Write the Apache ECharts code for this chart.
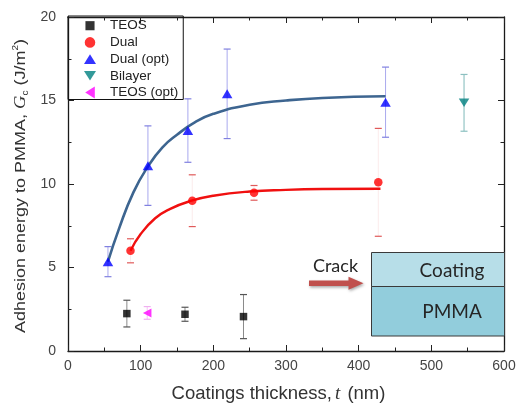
<!DOCTYPE html>
<html>
<head>
<meta charset="utf-8">
<script src="https://cdn.jsdelivr.net/npm/echarts@6/dist/echarts.min.js"></script>
<style>
  html, body { margin: 0; padding: 0; background: #fff; }
  #chart { width: 519px; height: 408px; }
</style>
</head>
<body>
<div id="chart"></div>
<script>
// Measured adhesion energy (J/m^2) versus coating thickness (nm)
var teosX = [81, 161, 241.5];
var teosY = [2.24, 2.2, 2.06];
var teosErr = [0.8, 0.42, 1.32];

var dualX = [86, 171, 256, 427];
var dualY = [6.0, 9.0, 9.47, 10.1];
var dualErr = [0.72, 1.55, 0.44, 3.23];

var dualOptX = [55, 110, 165, 219, 437];
var dualOptY = [5.35, 11.1, 13.2, 15.4, 14.9];
var dualOptErr = [0.9, 2.38, 1.9, 2.68, 2.1];

var bilayerX = [545];
var bilayerY = [14.86];
var bilayerErr = [1.7];

var teosOptX = [109];
var teosOptY = [2.28];
var teosOptErr = [0.38];

// Fitted trend curves
var dualOptFitX = [55, 70, 90, 110, 130, 150, 175, 200, 250, 300, 350, 437];
var dualOptFitY = [5.35, 7.3, 9.5, 11.05, 12.2, 12.95, 13.7, 14.2, 14.75, 15.0, 15.15, 15.25];
var dualFitX = [86, 100, 120, 140, 170, 200, 250, 300, 350, 430];
var dualFitY = [6.0, 7.0, 7.95, 8.5, 9.0, 9.3, 9.55, 9.65, 9.7, 9.72];

var seriesNames = ['TEOS', 'Dual', 'Dual (opt)', 'Bilayer', 'TEOS (opt)'];
var xTicks = [0, 100, 200, 300, 400, 500, 600];
var yTicks = [0, 5, 10, 15, 20];

function pairs(xs, ys) { return xs.map(function (x, i) { return [x, ys[i]]; }); }
function triples(xs, ys, es) { return xs.map(function (x, i) { return [x, ys[i], es[i]]; }); }

function errorBars(name, xs, ys, es, stemColor, capColor) {
  return {
    type: 'custom',
    name: name + ' err',
    z: 2,
    silent: true,
    data: triples(xs, ys, es),
    renderItem: function (params, api) {
      var x = api.value(0), y = api.value(1), e = api.value(2);
      var top = api.coord([x, y + e]);
      var bot = api.coord([x, y - e]);
      var hw = 3.5;
      return {
        type: 'group',
        children: [
          { type: 'line', shape: { x1: top[0], y1: top[1], x2: bot[0], y2: bot[1] },
            style: { stroke: stemColor, lineWidth: 1 } },
          { type: 'line', shape: { x1: top[0] - hw, y1: top[1], x2: top[0] + hw, y2: top[1] },
            style: { stroke: capColor, lineWidth: 1.2 } },
          { type: 'line', shape: { x1: bot[0] - hw, y1: bot[1], x2: bot[0] + hw, y2: bot[1] },
            style: { stroke: capColor, lineWidth: 1.2 } }
        ]
      };
    }
  };
}

var chart = echarts.init(document.getElementById('chart'), null, { renderer: 'canvas' });

var axisLineStyle = { color: '#1a1a1a', width: 1.3 };
var tickStyle = { color: '#222' };
var labelFont = { color: '#444', fontSize: 14, fontFamily: 'Liberation Sans, Arial, sans-serif' };

function frameAxis(extra) {
  return Object.assign({
    type: 'value',
    axisLine: { show: true, onZero: false, lineStyle: axisLineStyle },
    axisTick: { inside: true, length: 6, lineStyle: tickStyle },
    minorTick: { show: true, splitNumber: 2, length: 3.5, lineStyle: tickStyle },
    splitLine: { show: false },
    axisLabel: { show: false }
  }, extra);
}

// legend glyphs: marks inside a 10x10 box
var legendIcons = {
  'TEOS': 'path://M0,0M10,10M1.2,1.2h7.6v7.6h-7.6z',
  'Dual': 'path://M0,0M10,10M0.6,5a4.4,4.4 0 1,0 8.8,0a4.4,4.4 0 1,0 -8.8,0z',
  'Dual (opt)': 'path://M0,0M10,10M0,9L5,1L10,9z',
  'Bilayer': 'path://M0,0M10,10M0,1L10,1L5,9z',
  'TEOS (opt)': 'path://M0,0M10,10M1,5L9,0L9,10z'
};

var option = {
  backgroundColor: '#fff',
  animation: false,
  grid: { left: 68, right: 15, top: 17, bottom: 57 },
  legend: {
    orient: 'vertical',
    left: 68,
    top: 16,
    padding: [2.7, 5, 0, 16],
    itemWidth: 12,
    itemHeight: 12,
    itemGap: 2.7,
    borderColor: '#111',
    borderWidth: 1,
    textStyle: { color: '#222', fontSize: 13.5, lineHeight: 14, padding: [0, 0, 0, 9],
                 fontFamily: 'Liberation Sans, Arial, sans-serif' },
    data: seriesNames.map(function (n) { return { name: n, icon: legendIcons[n] }; })
  },
  xAxis: [
    frameAxis({ min: 0, max: 600, interval: 100,
      axisLabel: Object.assign({ margin: 8, formatter: function (v) { return xTicks.indexOf(v) >= 0 ? v : ''; } }, labelFont) }),
    frameAxis({ position: 'top', min: 0, max: 600, interval: 100 })
  ],
  yAxis: [
    frameAxis({ min: 0, max: 20, interval: 5,
      axisLabel: Object.assign({ margin: 12, formatter: function (v) { return yTicks.indexOf(v) >= 0 ? v : ''; } }, labelFont) }),
    frameAxis({ position: 'right', min: 0, max: 20, interval: 5 })
  ],
  series: [
    errorBars('TEOS', teosX, teosY, teosErr, '#8a8a8a', '#555'),
    errorBars('Dual', dualX, dualY, dualErr, 'rgba(220,90,90,0.12)', '#e05a5a'),
    errorBars('Dual (opt)', dualOptX, dualOptY, dualOptErr, '#a9a9ee', '#8080e0'),
    errorBars('Bilayer', bilayerX, bilayerY, bilayerErr, '#7fb9b9', '#8cc0c0'),
    errorBars('TEOS (opt)', teosOptX, teosOptY, teosOptErr, '#f6c2f6', '#f0b0f0'),
    {
      type: 'line', name: 'Dual (opt) fit', smooth: true, symbol: 'none', z: 3,
      data: pairs(dualOptFitX, dualOptFitY),
      lineStyle: { color: '#3d6590', width: 2.6 }
    },
    {
      type: 'line', name: 'Dual fit', smooth: true, symbol: 'none', z: 3,
      data: pairs(dualFitX, dualFitY),
      lineStyle: { color: '#f01010', width: 2.4 }
    },
    {
      type: 'scatter', name: 'TEOS', symbol: 'rect', symbolSize: 7.5, z: 5,
      itemStyle: { color: '#000' }, data: pairs(teosX, teosY)
    },
    {
      type: 'scatter', name: 'Dual', symbol: 'circle', symbolSize: 8.5, z: 5,
      itemStyle: { color: '#ff0000' }, data: pairs(dualX, dualY)
    },
    {
      type: 'scatter', name: 'Dual (opt)', symbol: 'triangle', symbolSize: [10.5, 9], z: 5,
      itemStyle: { color: '#0000ff' }, data: pairs(dualOptX, dualOptY)
    },
    {
      type: 'scatter', name: 'Bilayer', symbol: 'triangle', symbolRotate: 180, symbolSize: [10.5, 8.5], z: 5,
      itemStyle: { color: '#008080' }, data: pairs(bilayerX, bilayerY)
    },
    {
      type: 'scatter', name: 'TEOS (opt)', symbol: 'triangle', symbolRotate: 90, symbolSize: [9, 8.5], z: 5,
      itemStyle: { color: '#ff00ff' }, data: pairs(teosOptX, teosOptY)
    }
  ],
  graphic: [
    // axis titles
    {
      type: 'text', x: 20.5, y: 333, rotation: Math.PI / 2, scaleY: 0.86, z: 10,
      style: {
        text: 'Adhesion energy to PMMA, {it|G}{sub|c} (J/m{sup|2})',
        fill: '#333', fontSize: 18, fontFamily: 'Liberation Sans, Arial, sans-serif',
        align: 'left', verticalAlign: 'middle',
        rich: {
          it: { fontSize: 18.5, fontStyle: 'italic', fontFamily: 'Liberation Serif, serif', fill: '#333', lineHeight: 22 },
          sub: { fontSize: 10, fill: '#333', verticalAlign: 'bottom', lineHeight: 22 },
          sup: { fontSize: 10, fill: '#333', verticalAlign: 'top', lineHeight: 22 }
        }
      }
    },
    {
      type: 'text', x: 278.5, y: 394, z: 10,
      style: {
        text: 'Coatings thickness,{it|t} (nm)',
        fill: '#333', fontSize: 18.5, fontFamily: 'Liberation Sans, Arial, sans-serif',
        align: 'center', verticalAlign: 'middle',
        rich: {
          it: { fontSize: 19, fontStyle: 'italic', fontFamily: 'Liberation Serif, serif', fill: '#333', padding: [0, 2, 0, 3] }
        }
      }
    },
    // layered-structure sketch
    {
      type: 'rect', z: 6, shape: { x: 371.5, y: 252.5, width: 133, height: 34 },
      style: { fill: '#b7dee8', stroke: '#3a3a3a', lineWidth: 1 }
    },
    {
      type: 'rect', z: 6, shape: { x: 371.5, y: 286.5, width: 133, height: 49.5 },
      style: { fill: '#92cddc', stroke: '#3a3a3a', lineWidth: 1 }
    },
    {
      type: 'text', z: 7, x: 452, y: 270.5,
      style: { text: 'Coating', fill: '#262626', fontSize: 19, fontFamily: 'Lato, Open Sans, sans-serif', align: 'center', verticalAlign: 'middle' }
    },
    {
      type: 'text', z: 7, x: 452, y: 312,
      style: { text: 'PMMA', fill: '#262626', fontSize: 19, fontFamily: 'Lato, Open Sans, sans-serif', align: 'center', verticalAlign: 'middle' }
    },
    {
      type: 'text', z: 7, x: 335.5, y: 266,
      style: { text: 'Crack', fill: '#262626', fontSize: 18, fontFamily: 'Lato, Open Sans, sans-serif', align: 'center', verticalAlign: 'middle' }
    },
    {
      type: 'polygon', z: 7,
      shape: { points: [[309, 280.5], [348.5, 280.5], [348.5, 276.8], [363.5, 283.3], [348.5, 289.8], [348.5, 286.1], [309, 286.1]] },
      style: { fill: '#c0504d', shadowBlur: 3, shadowColor: 'rgba(0,0,0,0.35)', shadowOffsetX: 1, shadowOffsetY: 1.5 }
    }
  ]
};

chart.setOption(option);
</script>
</body>
</html>
